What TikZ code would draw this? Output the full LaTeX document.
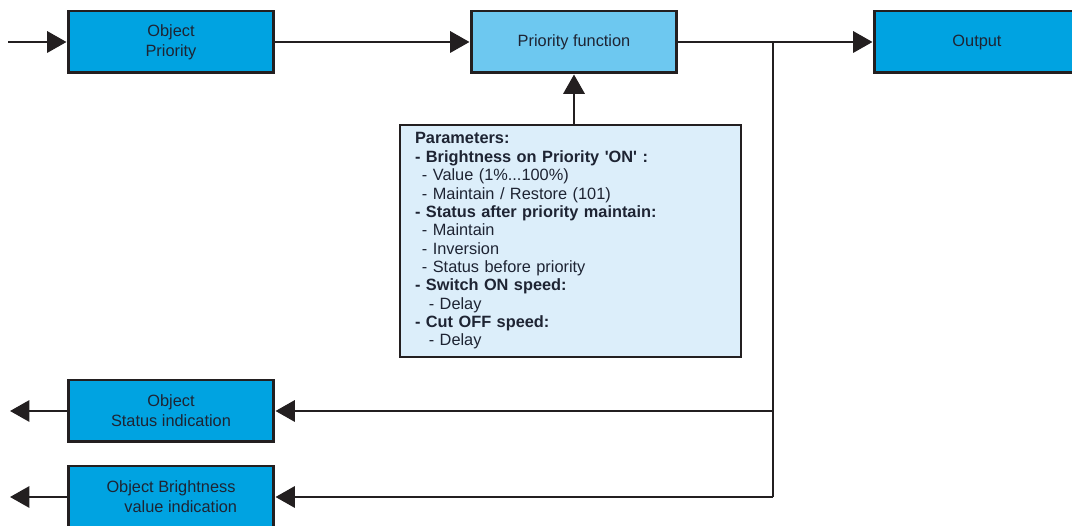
\documentclass[tikz,border=0pt]{standalone}
\usepackage{fontspec}
\setmainfont{Liberation Sans}
\usetikzlibrary{
    arrows.meta,
    positioning
}
\definecolor{objblue}{HTML}{00A3E1}
\definecolor{fnblue}{HTML}{6DC8F0}
\definecolor{parblue}{HTML}{DCEEFA}
\definecolor{inkline}{HTML}{231F20}
\definecolor{inktext}{HTML}{1E2433}

\begin{document}
\begin{tikzpicture}[
    x=0.02cm, y=-0.02cm,
    font=\fontsize{9.3}{11.4}\selectfont,
    box/.style={draw=inkline, line width=1.7pt, text=inktext, align=center,
                minimum width=4.12cm, minimum height=1.24cm},
    objbox/.style={box, fill=objblue},
    fnbox/.style={box, fill=fnblue},
    parbox/.style={draw=inkline, line width=1.2pt, fill=parblue, text=inktext,
                   align=left, text width=6.22cm, inner xsep=0.3cm, inner ysep=4pt,
                   minimum height=4.64cm, font=\fontsize{9.3}{10.45}\selectfont},
    wire/.style={draw=inkline, line width=1.6pt},
    arr/.style={wire, -{Triangle[length=11pt, width=12pt]}}
]
    \useasboundingbox (0,0) rectangle (1072,526);

    % top row
    \node[objbox] (prio) at (171,42)  {Object\\Priority};
    \node[fnbox]  (func) at (574,42)  {Priority function};
    \node[objbox] (out)  at (977,42)  {Output};

    % parameters of the priority function
    \node[parbox] (par) at (570.5,241) {%
        \textbf{Parameters:}\\
        \textbf{- Brightness on Priority \textquotesingle ON\textquotesingle\ :}\\
        \hspace{0.8ex}- Value (1\%...100\%)\\
        \hspace{0.8ex}- Maintain / Restore (101)\\
        \textbf{- Status after priority maintain:}\\
        \hspace{0.8ex}- Maintain\\
        \hspace{0.8ex}- Inversion\\
        \hspace{0.8ex}- Status before priority\\
        \textbf{- Switch ON speed:}\\
        \hspace{1.6ex}- Delay\\
        \textbf{- Cut OFF speed:}\\
        \hspace{1.6ex}- Delay};

    % feedback objects
    \node[objbox] (stat)   at (171,411) {Object\\Status indication};
    \node[objbox] (bright) at (171,497) {Object Brightness\\\hspace{1.2em}value indication};

    \coordinate (in)   at (8,42);
    \coordinate (jn)   at (773,42);
    \coordinate (jb)   at (773,497);
    \coordinate (sout) at (10,411);
    \coordinate (bout) at (10,497);

    % connectors
    \draw[arr]  (in) -- (prio.west);
    \draw[arr]  (prio.east) -- (func.west);
    \draw[arr]  (func.east) -- (out.west);
    \draw[arr]  (func.south |- par.north) -- (func.south);
    \draw[wire] (jn) -- (jb);
    \draw[arr]  (jn |- stat.east) -- (stat.east);
    \draw[arr]  (jb) -- (bright.east);
    \draw[arr]  (stat.west) -- (sout);
    \draw[arr]  (bright.west) -- (bout);
\end{tikzpicture}
\end{document}
